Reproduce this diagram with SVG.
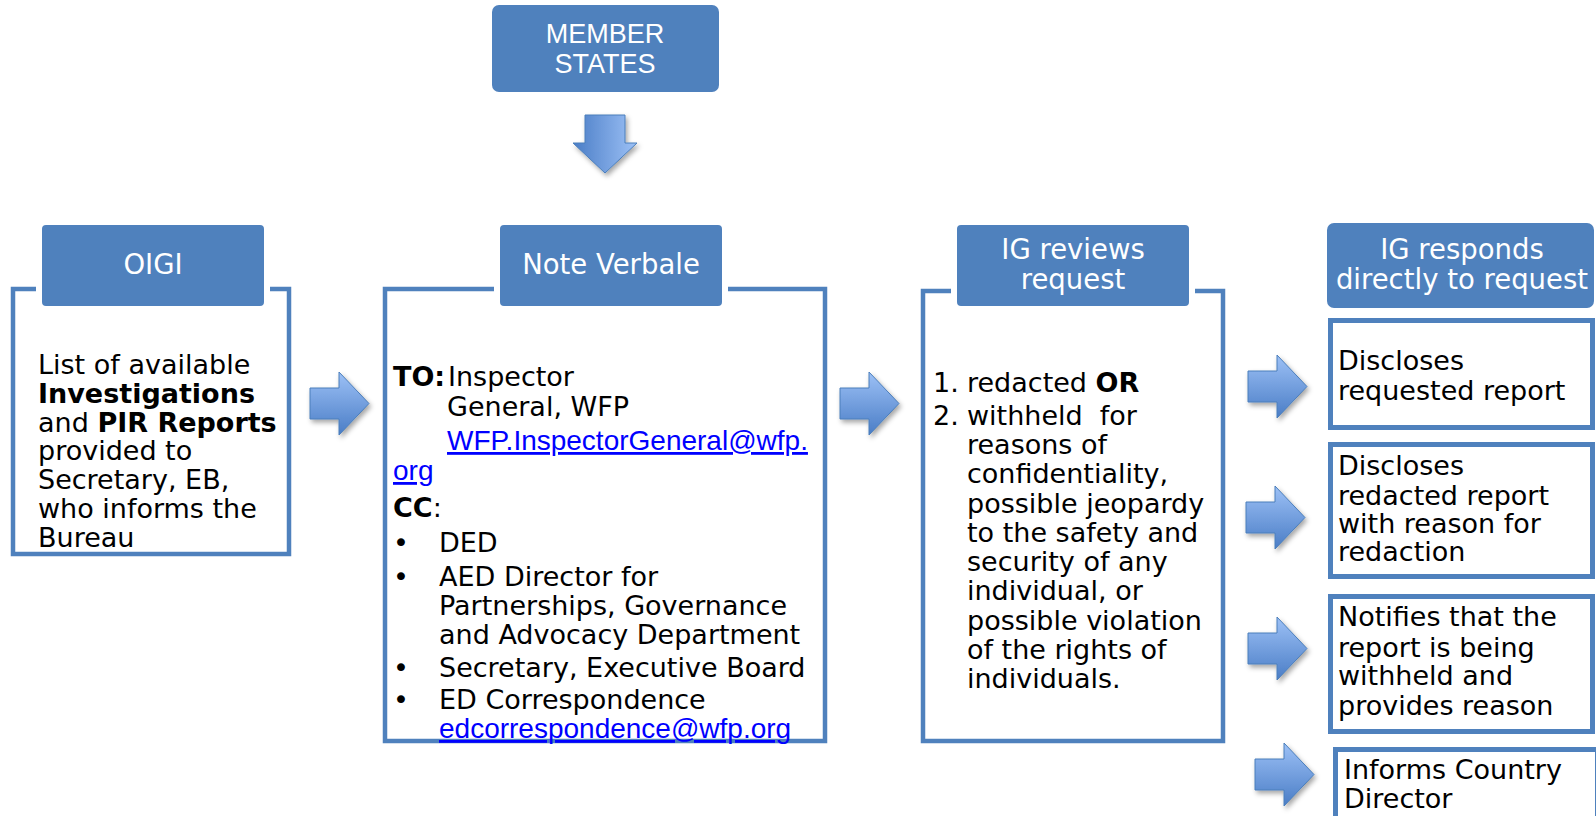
<svg xmlns="http://www.w3.org/2000/svg" width="1596" height="816" viewBox="0 0 1596 816">
<defs>
<linearGradient id="gR" x1="0" y1="0" x2="0" y2="1">
<stop offset="0" stop-color="#9dc1f6"/>
<stop offset="1" stop-color="#4a7dc6"/>
</linearGradient>
<linearGradient id="gD" x1="1" y1="0" x2="0" y2="0">
<stop offset="0" stop-color="#9dc1f6"/>
<stop offset="1" stop-color="#4a7dc6"/>
</linearGradient>
<filter id="sh" x="-20%" y="-20%" width="150%" height="150%">
<feDropShadow dx="2" dy="3" stdDeviation="2.5" flood-color="#000" flood-opacity="0.35"/>
</filter>
<polygon id="ar" points="0,16 29,16 29,0 59,31.5 29,63 29,47 0,47"/>
</defs>
<style>
.frame{fill:#fff;stroke:#4f81bd;stroke-width:4.5}
.hdr{fill:#4f81bd;stroke:#fff;stroke-width:6}
.box{fill:#fff;stroke:#4f81bd;stroke-width:5}
.ht{font-family:"DejaVu Sans",Verdana,sans-serif;font-size:27.5px;fill:#fff;text-anchor:middle}
.bt{font-family:"DejaVu Sans",Verdana,sans-serif;font-size:27px;fill:#000}
.b{font-weight:bold}
.lk{font-family:"Liberation Sans",Arial,sans-serif;font-size:28px;fill:#0000ff;text-decoration:underline}
.ms{font-family:"Liberation Sans",Arial,sans-serif;font-size:27px;fill:#fff;text-anchor:middle}
.arr{fill:url(#gR);stroke:#4a7ebb;stroke-width:1;filter:url(#sh)}
.arrd{fill:url(#gD);stroke:#4a7ebb;stroke-width:1;filter:url(#sh)}
</style>
<rect width="1596" height="816" fill="#fff"/>

<g id="member-states">
<rect x="492" y="5" width="227" height="87" rx="7" fill="#4f81bd"/>
<text class="ms" x="605" y="43">MEMBER</text>
<text class="ms" x="605" y="73">STATES</text>
</g>

<g id="oigi">
<rect class="frame" x="13" y="289" width="276" height="265"/>
<rect class="hdr" x="39" y="222" width="228" height="87" rx="7"/>
<text class="ht" x="153" y="274">OIGI</text>
<text class="bt">
<tspan x="38" y="374">List of available</tspan>
<tspan x="38" y="403" class="b">Investigations</tspan>
<tspan x="38" y="432">and <tspan class="b">PIR Reports</tspan></tspan>
<tspan x="38" y="460">provided to</tspan>
<tspan x="38" y="489">Secretary, EB,</tspan>
<tspan x="38" y="518">who informs the</tspan>
<tspan x="38" y="547">Bureau</tspan>
</text>
</g>

<g id="note-verbale">
<rect class="frame" x="385" y="289" width="440" height="452"/>
<rect class="hdr" x="497" y="222" width="228" height="87" rx="7"/>
<text class="ht" x="611" y="274">Note Verbale</text>
<text class="bt">
<tspan x="393" y="386" class="b">TO:</tspan><tspan x="448" y="386">Inspector</tspan>
<tspan x="447" y="416">General, WFP</tspan>
<tspan x="393" y="517" class="b">CC</tspan><tspan>:</tspan>
<tspan x="393" y="552">•</tspan><tspan x="439" y="552">DED</tspan>
<tspan x="393" y="586">•</tspan><tspan x="439" y="586">AED Director for</tspan>
<tspan x="439" y="615">Partnerships, Governance</tspan>
<tspan x="439" y="644">and Advocacy Department</tspan>
<tspan x="393" y="677">•</tspan><tspan x="439" y="677">Secretary, Executive Board</tspan>
<tspan x="393" y="709">•</tspan><tspan x="439" y="709">ED Correspondence</tspan>
</text>
<text class="lk"><tspan x="447" y="450">WFP.InspectorGeneral@wfp.</tspan><tspan x="393" y="480">org</tspan></text>
<text class="lk" x="439" y="738">edcorrespondence@wfp.org</text>
</g>

<g id="ig-reviews">
<rect class="frame" x="923" y="291" width="300" height="450"/>
<rect class="hdr" x="954" y="222" width="238" height="87" rx="7"/>
<text class="ht"><tspan x="1073" y="259">IG reviews</tspan><tspan x="1073" y="289">request</tspan></text>
<text class="bt">
<tspan x="933" y="392">1.</tspan><tspan x="967" y="392">redacted <tspan class="b">OR</tspan></tspan>
<tspan x="933" y="425">2.</tspan><tspan x="967" y="425">withheld&#160; for</tspan>
<tspan x="967" y="454">reasons of</tspan>
<tspan x="967" y="483">confidentiality,</tspan>
<tspan x="967" y="513">possible jeopardy</tspan>
<tspan x="967" y="542">to the safety and</tspan>
<tspan x="967" y="571">security of any</tspan>
<tspan x="967" y="600">individual, or</tspan>
<tspan x="967" y="630">possible violation</tspan>
<tspan x="967" y="659">of the rights of</tspan>
<tspan x="967" y="688">individuals.</tspan>
</text>
</g>

<g id="ig-responds">
<rect x="1327" y="223" width="267" height="85" rx="7" fill="#4f81bd"/>
<text class="ht"><tspan x="1462" y="259">IG responds</tspan><tspan x="1462" y="289">directly to request</tspan></text>
</g>

<g id="discloses-requested">
<rect class="box" x="1330.5" y="320.5" width="262" height="107"/>
<text class="bt"><tspan x="1338" y="370">Discloses</tspan><tspan x="1338" y="400">requested report</tspan></text>
</g>

<g id="discloses-redacted">
<rect class="box" x="1330.5" y="444.5" width="262" height="132"/>
<text class="bt"><tspan x="1338" y="475">Discloses</tspan><tspan x="1338" y="505">redacted report</tspan><tspan x="1338" y="533">with reason for</tspan><tspan x="1338" y="561">redaction</tspan></text>
</g>

<g id="notifies-withheld">
<rect class="box" x="1330.5" y="596.5" width="262" height="135"/>
<text class="bt"><tspan x="1338" y="626">Notifies that the</tspan><tspan x="1338" y="657">report is being</tspan><tspan x="1338" y="685">withheld and</tspan><tspan x="1338" y="715">provides reason</tspan></text>
</g>

<g id="informs-country-director">
<rect class="box" x="1335.5" y="749.5" width="262" height="80"/>
<text class="bt"><tspan x="1344" y="779">Informs Country</tspan><tspan x="1344" y="808">Director</tspan></text>
</g>

<g id="connectors">
<polygon class="arrd" points="585,115 625,115 625,143 637,143 605,173 573,143 585,143"/>
<use href="#ar" class="arr" x="310" y="372"/>
<use href="#ar" class="arr" x="840" y="372"/>
<use href="#ar" class="arr" x="1248" y="355"/>
<use href="#ar" class="arr" x="1246" y="486"/>
<use href="#ar" class="arr" x="1248" y="617"/>
<use href="#ar" class="arr" x="1255" y="743"/>
</g>
</svg>
